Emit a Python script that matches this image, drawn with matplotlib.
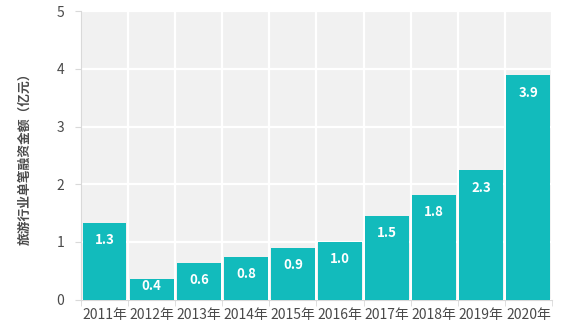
import matplotlib.pyplot as plt
import numpy as np

plt.rcParams['font.family'] = ['Noto Sans CJK SC', 'DejaVu Sans']

years = ['2011年', '2012年', '2013年', '2014年', '2015年',
         '2016年', '2017年', '2018年', '2019年', '2020年']
amounts = [1.33, 0.36, 0.64, 0.74, 0.90, 1.00, 1.45, 1.81, 2.24, 3.89]
labels = ['1.3', '0.4', '0.6', '0.8', '0.9', '1.0', '1.5', '1.8', '2.3', '3.9']

bar_color = '#12BBBC'
grey = '#D9D9D9'

fig = plt.figure(figsize=(5.69, 3.36), dpi=100)
ax = fig.add_axes([0.1424, 0.1086, 0.8276, 0.8579])
ax.set_facecolor('#F1F1F1')

x = np.arange(len(years))
bars = ax.bar(x, amounts, width=0.93, color=bar_color, zorder=3)

# value labels sit a little below the bar top; short bars keep them inside
for b, t in zip(bars, labels):
    h = b.get_height()
    ax.text(b.get_x() + b.get_width() / 2, max(h - 0.3, 0.23), t,
            ha='center', va='center', color='white',
            fontsize=9.5, fontweight='bold', zorder=4)

ax.set_xlim(-0.5, len(years) - 0.5)
ax.set_ylim(0, 5)
ax.set_yticks(range(6))
ax.set_xticks(x)
ax.set_xticklabels(years)
ax.set_xticks(np.arange(-0.5, len(years)), minor=True)

ax.grid(axis='y', color='white', linewidth=1.6, zorder=1)
ax.grid(axis='x', which='minor', color='white', linewidth=1.6, zorder=1)
ax.set_axisbelow(True)

ax.tick_params(axis='x', which='major', length=0, pad=6, labelsize=10,
               labelcolor='#4a4a4a')
ax.tick_params(axis='x', which='minor', length=4, color=grey)
ax.tick_params(axis='y', length=4, color=grey, pad=8, labelsize=10,
               labelcolor='#4a4a4a')

for s in ['top', 'right']:
    ax.spines[s].set_visible(False)
for s in ['left', 'bottom']:
    ax.spines[s].set_color(grey)
    ax.spines[s].set_linewidth(0.8)

ax.set_ylabel('旅游行业单笔融资金额（亿元）', fontsize=9.2, fontweight='bold',
              color='#4a4a4a', labelpad=18)

fig.savefig('out.png', dpi=100)
